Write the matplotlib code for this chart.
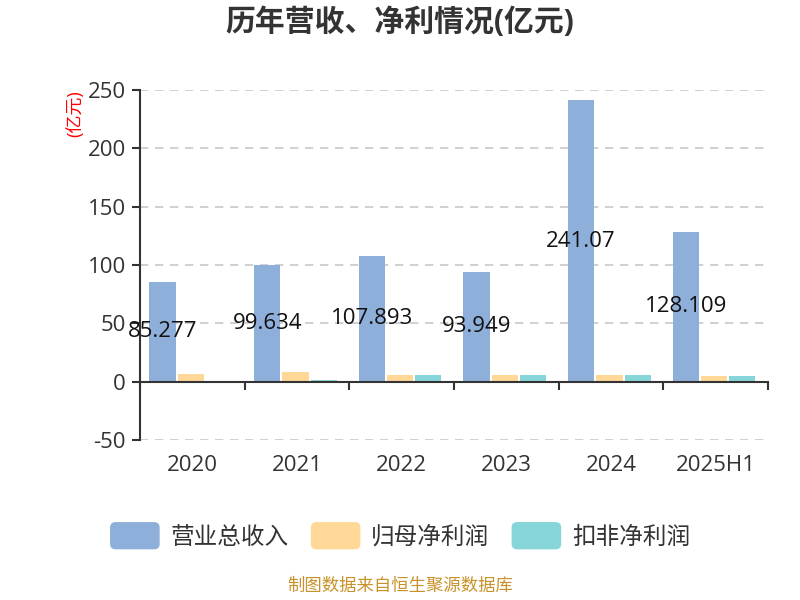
"""历年营收、净利情况(亿元) — 分组柱状图复刻。"""

import matplotlib

matplotlib.use("Agg")
import matplotlib.pyplot as plt
import numpy as np
from matplotlib.legend_handler import HandlerPatch
from matplotlib.patches import FancyBboxPatch, Patch

plt.rcParams["font.family"] = ["Open Sans", "Noto Sans CJK SC", "DejaVu Sans"]

years = ["2020", "2021", "2022", "2023", "2024", "2025H1"]
revenue = [85.277, 99.634, 107.893, 93.949, 241.07, 128.109]
net_profit = [6.9, 8.0, 5.4, 6.1, 5.7, 4.6]
net_profit_deducted = [0.4, 1.2, 6.0, 6.1, 5.4, 4.6]
series_names = ["营业总收入", "归母净利润", "扣非净利润"]
colors = ["#8fafdb", "#ffd897", "#86d5d8"]
yticks = [-50, 0, 50, 100, 150, 200, 250]


class RoundedHandler(HandlerPatch):
    """图例色块画成圆角矩形。"""

    def create_artists(self, legend, orig_handle, xdescent, ydescent,
                       width, height, fontsize, trans):
        p = FancyBboxPatch((-xdescent, -ydescent), width, height,
                           boxstyle="round,pad=0,rounding_size=4",
                           facecolor=orig_handle.get_facecolor(),
                           edgecolor="none", transform=trans)
        return [p]


fig = plt.figure(figsize=(8, 6), dpi=100)
ax = fig.add_axes([0.175, 0.2667, 0.785, 0.5833])

x = np.arange(len(years))
width = 0.25
gap = 0.02
offsets = [-(width + gap), 0.0, width + gap]
for vals, off, col in zip([revenue, net_profit, net_profit_deducted], offsets, colors):
    ax.bar(x + off - 0.015, vals, width=width, color=col, zorder=3)

for xi, v in zip(x + offsets[0] - 0.015, revenue):
    ax.text(xi, v / 2, f"{v:g}", ha="center", va="center", fontsize=16,
            color="#111111", zorder=5)

ax.set_xlim(-0.5, len(years) - 0.5)
ax.set_ylim(-50, 250)
ax.set_yticks(yticks)
ax.set_yticklabels([str(t) for t in yticks])
ax.set_xticks(x)
ax.set_xticklabels(years)
ax.set_xticks(np.arange(len(years) + 1) - 0.5, minor=True)
ax.tick_params(axis="x", which="major", length=0, pad=53, labelsize=16,
               labelcolor="#333333")
ax.tick_params(axis="x", which="minor", length=6, width=1.5, color="#333333")
ax.tick_params(axis="y", length=6, width=1.5, color="#333333", pad=4,
               labelsize=16, labelcolor="#333333")

ax.grid(axis="y", linestyle=(0, (5, 4)), color="#c8c8c8", linewidth=1.2, zorder=0)
for side in ["top", "right"]:
    ax.spines[side].set_visible(False)
ax.spines["left"].set_color("#333333")
ax.spines["left"].set_linewidth(1.5)
ax.spines["bottom"].set_position(("data", 0))
ax.spines["bottom"].set_color("#333333")
ax.spines["bottom"].set_linewidth(1.5)
ax.spines["bottom"].set_zorder(4)

fig.text(0.094, 0.81, "(亿元)", rotation=90, ha="center", va="center",
         fontsize=13, color="#ff0000")
fig.text(0.5, 0.962, "历年营收、净利情况(亿元)", ha="center", va="center",
         fontsize=21.5, fontweight="bold", color="#333333")

handles = [Patch(facecolor=c, edgecolor="none") for c in colors]
fig.legend(handles, series_names, loc="center", bbox_to_anchor=(0.5, 0.107),
           ncol=3, frameon=False, fontsize=17, handlelength=2.1, handleheight=1.4,
           columnspacing=0.95, handletextpad=0.45, labelcolor="#333333",
           handler_map={Patch: RoundedHandler()})

fig.text(0.5, 0.022, "制图数据来自恒生聚源数据库", ha="center", va="center",
         fontsize=12.5, color="#c8922a")

fig.savefig("out.png", dpi=100)
